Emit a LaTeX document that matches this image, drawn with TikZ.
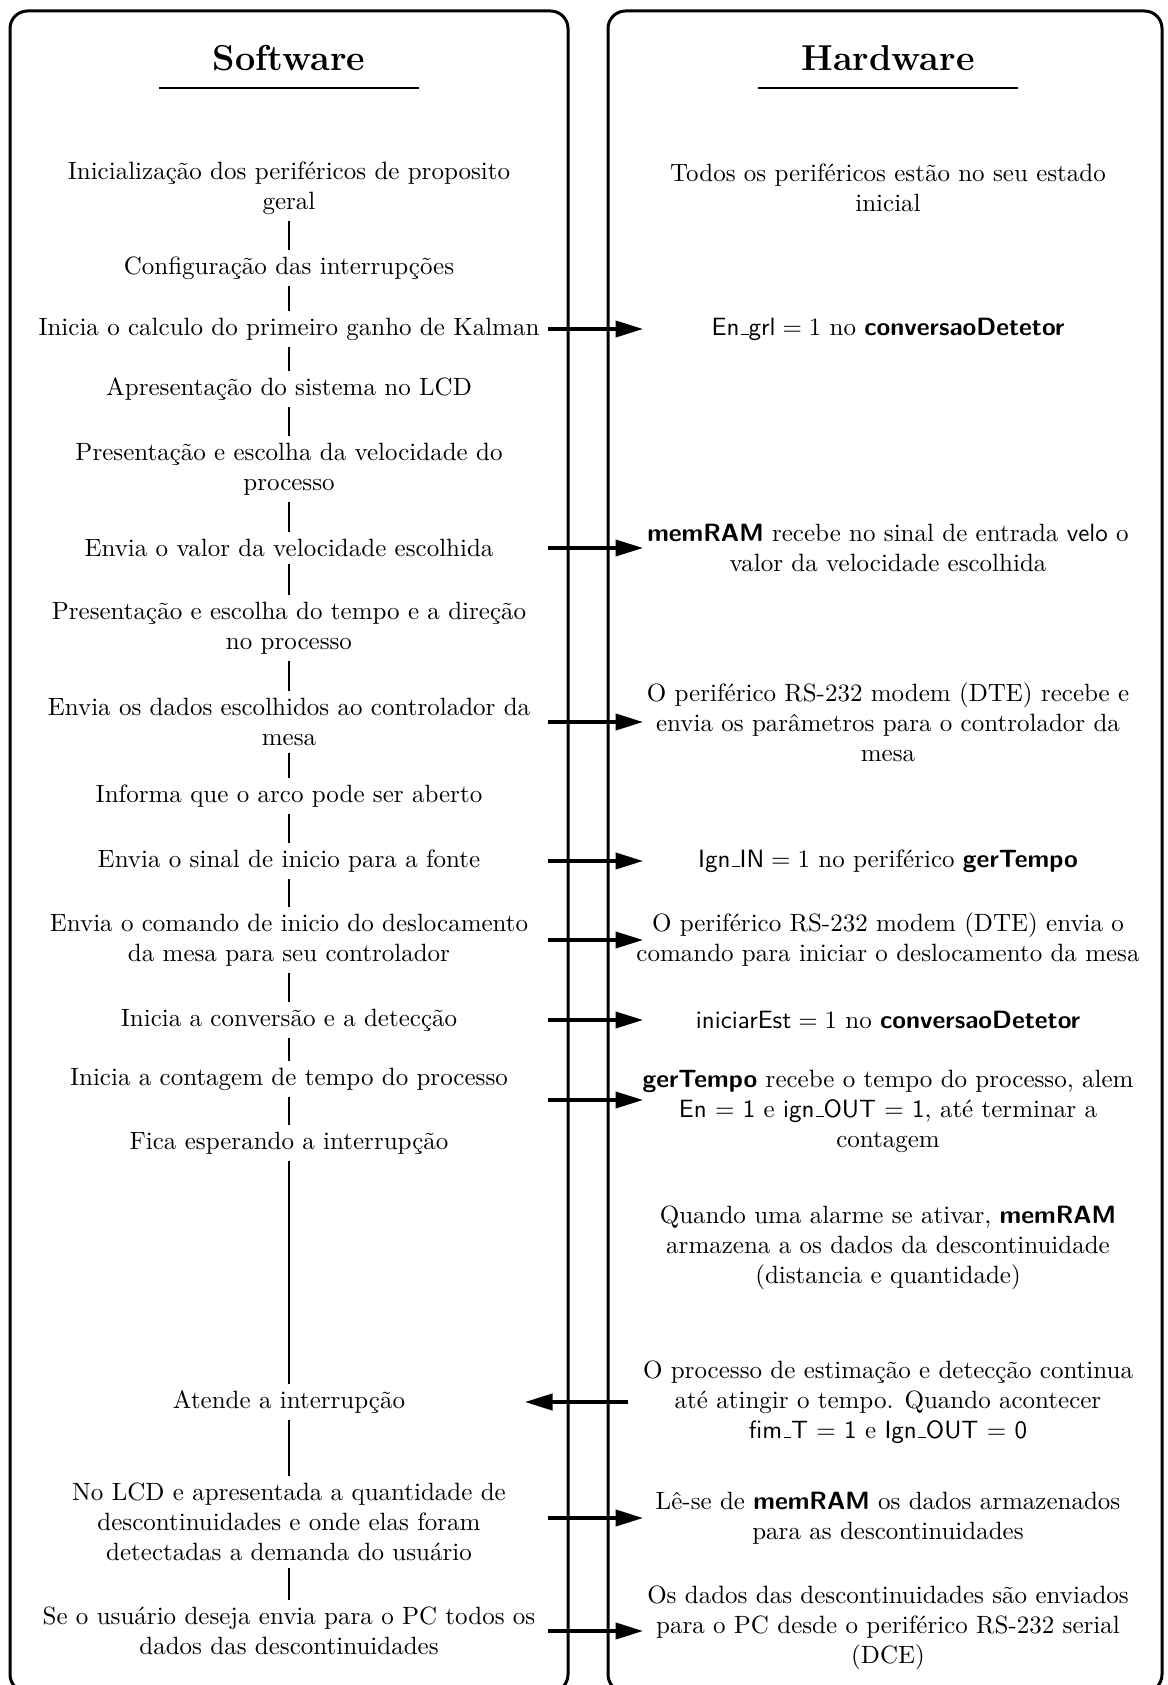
\documentclass[tikz,border=0pt]{standalone}
\usetikzlibrary{arrows.meta}
\newcommand\hwb[1]{\textsf{\textbf{#1}}}
\newcommand\hws[1]{\textsf{#1}}
\newcommand\us{\leavevmode\kern.06em\vbox{\hrule width.3em}}
\begin{document}
\begin{tikzpicture}[x=0.4pt,y=-0.4pt,
  panel/.style={line width=1.2pt, rounded corners=7pt},
  txt/.style={align=center, inner sep=2.5pt},
  ttl/.style={font=\Large\bfseries},
  uline/.style={line width=0.9pt},
  conn/.style={line width=0.8pt},
  arr/.style={line width=1.3pt, -{Triangle[length=11pt,width=6.5pt]}}]
\useasboundingbox (0,0) rectangle (1167,1685);
% panels
\draw[panel] (10,11) rectangle (568,1692);
\draw[panel] (608,11) rectangle (1162,1692);
% titles
\node[ttl] (ts) at (289,58) {Software};
\node[ttl] (th) at (888,58) {Hardware};
\coordinate (us1) at (159,88); \coordinate (us2) at (419,88);
\coordinate (uh1) at (758,88); \coordinate (uh2) at (1018,88);
\draw[uline] (us1) -- (us2);
\draw[uline] (uh1) -- (uh2);
% software column
\node[txt] (L1) at (289,188) {Inicialização dos periféricos de proposito\\geral};
\node[txt] (L2) at (289,268) {Configuração das interrupções};
\node[txt] (L3) at (289,329) {Inicia o calculo do primeiro ganho de Kalman};
\node[txt] (L4) at (289,389) {Apresentação do sistema no LCD};
\node[txt] (L5) at (289,469) {Presentação e escolha da velocidade do\\processo};
\node[txt] (L6) at (289,548) {Envia o valor da velocidade escolhida};
\node[txt] (L7) at (289,628) {Presentação e escolha do tempo e a direção\\no processo};
\node[txt] (L8) at (289,722) {Envia os dados escolhidos ao controlador da\\mesa};
\node[txt] (L9) at (289,796) {Informa que o arco pode ser aberto};
\node[txt] (L10) at (289,861) {Envia o sinal de inicio para a fonte};
\node[txt] (L11) at (289,940) {Envia o comando de inicio do deslocamento\\da mesa para seu controlador};
\node[txt] (L12) at (289,1020) {Inicia a conversão e a detecção};
\node[txt] (L13) at (289,1079) {Inicia a contagem de tempo do processo};
\node[txt] (L14) at (289,1143) {Fica esperando a interrupção};
\node[txt] (L15) at (289,1402) {Atende a interrupção};
\node[txt] (L16) at (289,1522) {No LCD e apresentada a quantidade de\\descontinuidades e onde elas foram\\detectadas a demanda do usuário};
\node[txt] (L17) at (289,1631) {Se o usuário deseja envia para o PC todos os\\dados das descontinuidades};
\foreach \a/\b in {L1/L2,L2/L3,L3/L4,L4/L5,L5/L6,L6/L7,L7/L8,L8/L9,L9/L10,L10/L11,L11/L12,L12/L13,L13/L14,L14/L15,L15/L16,L16/L17}
  \draw[conn] (\a.south) -- (\b.north);
% hardware column
\node[txt] (R1) at (888,188) {Todos os periféricos estão no seu estado\\inicial};
\node[txt] (R2) at (888,329) {$\textsf{En\us grl} = 1$ no \hwb{conversaoDetetor}};
\node[txt] (R3) at (888,548) {\hwb{memRAM} recebe no sinal de entrada \hws{velo} o\\valor da velocidade escolhida};
\node[txt] (R4) at (888,722) {O periférico RS-232 modem (DTE) recebe e\\envia os parâmetros para o controlador da\\mesa};
\node[txt] (R5) at (888,861) {$\textsf{Ign\us IN} = 1$ no periférico \hwb{gerTempo}};
\node[txt] (R6) at (888,940) {O periférico RS-232 modem (DTE) envia o\\comando para iniciar o deslocamento da mesa};
\node[txt] (R7) at (888,1020) {$\textsf{iniciarEst} = 1$ no \hwb{conversaoDetetor}};
\node[txt] (R8) at (888,1111) {\hwb{gerTempo} recebe o tempo do processo, alem\\\hws{En = 1} e \hws{ign\us OUT = 1}, até terminar a\\contagem};
\node[txt] (R9) at (888,1248) {Quando uma alarme se ativar, \hwb{memRAM}\\armazena a os dados da descontinuidade\\(distancia e quantidade)};
\node[txt] (R10) at (888,1402) {O processo de estimação e detecção continua\\até atingir o tempo. Quando acontecer\\\hws{fim\us T = 1} e \hws{Ign\us OUT = 0}};
\node[txt] (R11) at (888,1518) {Lê-se de \hwb{memRAM} os dados armazenados\\para as descontinuidades};
\node[txt] (R12) at (888,1628) {Os dados das descontinuidades são enviados\\para o PC desde o periférico RS-232 serial\\(DCE)};
% arrows
\coordinate (sx) at (548,0);
\coordinate (ex) at (643,0);
\coordinate (rs) at (628,0);
\coordinate (re) at (525,0);
\coordinate (g) at (0,1100);
\draw[arr] (sx |- L3) -- (ex |- L3);
\draw[arr] (sx |- L6) -- (ex |- L6);
\draw[arr] (sx |- L8) -- (ex |- L8);
\draw[arr] (sx |- L10) -- (ex |- L10);
\draw[arr] (sx |- L11) -- (ex |- L11);
\draw[arr] (sx |- L12) -- (ex |- L12);
\draw[arr] (sx |- g) -- (ex |- g);
\draw[arr] (rs |- L15) -- (re |- L15);
\draw[arr] (sx |- R11) -- (ex |- R11);
\draw[arr] (sx |- L17) -- (ex |- L17);
\end{tikzpicture}
\end{document}
